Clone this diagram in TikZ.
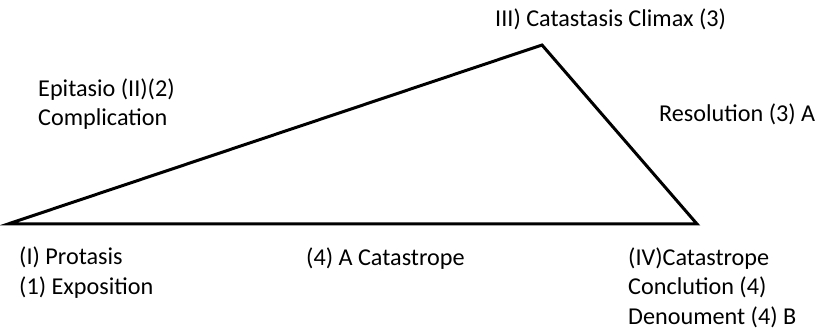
\documentclass[tikz,border=0pt]{standalone}
\usepackage{fontspec}
\setmainfont{Carlito}
\begin{document}
\begin{tikzpicture}[x=1pt,y=-1pt,
  lbl/.style={anchor=base west,inner sep=0pt,align=left,font=\fontsize{24.2}{29.5}\selectfont},
  tri/.style={line width=3pt,line join=miter}]
\useasboundingbox (0,0) rectangle (819,331);
\coordinate (L) at (8,224);
\coordinate (T) at (542,45);
\coordinate (R) at (697,224);
\draw[tri] (L) -- (T) -- (R) -- cycle;
\node[lbl] (top) at (495,27) {III) Catastasis Climax (3)};
\node[lbl] (epi) at (38,126) {Epitasio (II)(2)\\Complication};
\node[lbl] (res) at (659,122) {Resolution (3) A};
\node[lbl] (pro) at (19,294) {(I) Protasis\\(1) Exposition};
\node[lbl] (cat) at (306,265) {(4) A Catastrope};
\node[lbl] (iv) at (628,324) {(IV)Catastrope\\Conclution (4)\\Denoument (4) B};
\end{tikzpicture}
\end{document}
